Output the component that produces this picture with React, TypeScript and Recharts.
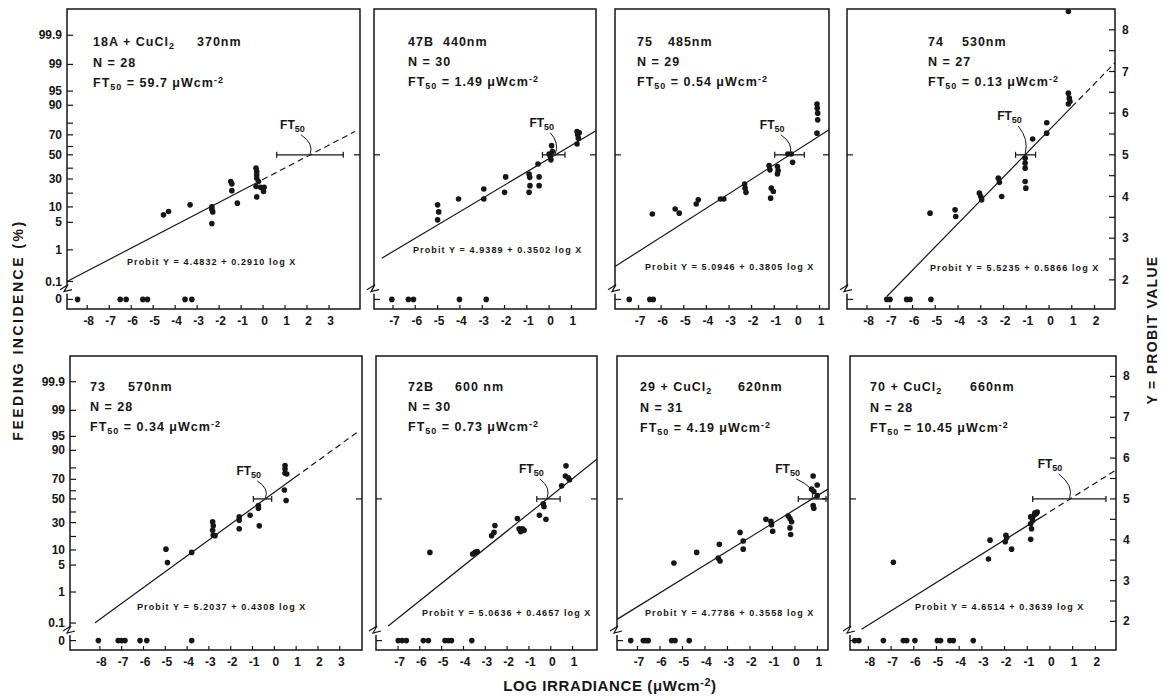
import React from "react"
import {
  ScatterChart,
  Scatter,
  XAxis,
  YAxis,
  ReferenceArea,
  ReferenceLine,
  ReferenceDot,
} from "recharts"

const INK = "#161616"
const FONT = '"Liberation Sans", Arial, Helvetica, sans-serif'

// shared probit scale (right axis) and its percent labels (left axis)
const yDomain = [1.3, 8.5]
const pctLabels = ["0", "0.1", "1", "5", "10", "30", "50", "70", "90", "95", "99", "99.9"]
const pctAt = [1.53, 1.96, 2.72, 3.38, 3.75, 4.42, 5, 5.48, 6.19, 6.53, 7.17, 7.87]
const pctMinorAt = [4.08, 4.68, 5.2, 5.76]
const probitLabels = [2, 3, 4, 5, 6, 7, 8]
const probitMinorAt = [2.5, 3.5, 4.5, 5.5, 6.5, 7.5]
const zeroAt = pctAt[0]
const breakAt = 1.74

// 18A + CuCl2, 370nm
const p370Zero = [-8.44, -6.5, -6.23, -5.47, -5.26, -3.55, -3.24]
const p370Pts = [
  [-4.53, 3.56], [-4.3, 3.64], [-3.32, 3.8], [-2.33, 3.75], [-2.33, 3.69], [-2.29, 3.63],
  [-2.33, 3.35], [-1.47, 4.36], [-1.42, 4.3], [-1.42, 4.14], [-1.17, 3.84], [-0.32, 4.68],
  [-0.29, 4.6], [-0.29, 4.52], [-0.29, 4.44], [-0.21, 4.36], [-0.29, 3.99], [-0.11, 4.22],
  [0.05, 4.22], [0.02, 4.12], [-0.32, 4.24],
]
const p370Fit = [[-8.92, 1.96], [-0.44, 4.29], [4.18, 5.56]]
const p370Ft50 = 2.14
const p370Bar = [0.62, 3.65]
const p370Ticks = [-8, -7, -6, -5, -4, -3, -2, -1, 0, 1, 2, 3]

// 47B, 440nm
const p440Zero = [-7.05, -6.31, -6.08, -4.02, -2.82]
const p440Pts = [
  [-5.0, 3.8], [-4.95, 3.63], [-5.0, 3.44], [-4.06, 3.94], [-2.93, 4.18], [-2.93, 3.94],
  [-1.95, 4.47], [-2.0, 4.1], [-0.9, 4.54], [-0.87, 4.46], [-0.86, 4.26], [-0.9, 4.1],
  [-0.45, 4.47], [-0.45, 4.26], [-0.5, 4.78], [0.11, 5.22], [0.0, 5.02], [0.05, 4.96],
  [0.15, 5.08], [0.08, 4.88], [1.25, 5.56], [1.28, 5.48], [1.31, 5.4], [1.25, 5.26], [1.35, 5.53],
]
const p440Fit = [[-7.5, 2.52], [2.1, 5.58]]
const p440Ft50 = 0.28
const p440Bar = [-0.3, 0.71]
const p440Ticks = [-7, -6, -5, -4, -3, -2, -1, 0, 1]

// 75, 485nm
const p485Zero = [-7.41, -6.5, -6.35]
const p485Pts = [
  [-6.39, 3.58], [-5.38, 3.7], [-5.2, 3.6], [-4.45, 3.82], [-4.36, 3.92], [-3.38, 3.94],
  [-3.23, 3.94], [-2.31, 4.3], [-2.29, 4.2], [-2.25, 4.1], [-1.23, 4.74], [-1.19, 4.64],
  [-1.16, 3.96], [-1.13, 4.2], [-1.04, 4.12], [-0.86, 4.72], [-0.83, 4.62], [-0.86, 4.54],
  [-0.4, 5.02], [-0.25, 5.02], [-0.19, 4.82], [0.89, 6.22], [0.9, 6.12], [0.92, 6.0],
  [0.92, 5.84], [0.89, 5.52],
]
const p485Fit = [[-8.04, 2.32], [1.42, 5.6]]
const p485Ft50 = -0.31
const p485Bar = [-0.98, 0.33]
const p485Ticks = [-7, -6, -5, -4, -3, -2, -1, 0, 1]

// 74, 530nm
const p530Zero = [-7.13, -6.99, -6.26, -6.11, -5.19]
const p530Pts = [
  [-5.23, 3.6], [-4.13, 3.68], [-4.1, 3.52], [-3.06, 4.08], [-3.0, 4.0], [-2.96, 3.92],
  [-2.23, 4.44], [-2.18, 4.34], [-2.08, 4.0], [-1.05, 4.92], [-1.05, 4.8], [-1.05, 4.68],
  [-1.05, 4.36], [-1.02, 4.2], [-0.72, 5.38], [-0.1, 5.77], [-0.1, 5.52], [0.85, 6.48],
  [0.89, 6.36], [0.92, 6.28], [0.85, 6.22], [0.85, 8.44],
]
const p530Fit = [[-7.13, 1.6], [1.0, 6.15], [2.9, 7.21]]
const p530Ft50 = -1.05
const p530Bar = [-1.47, -0.59]
const p530Ticks = [-8, -7, -6, -5, -4, -3, -2, -1, 0, 1, 2]

// 73, 570nm
const p570Zero = [-8.07, -7.16, -7.0, -6.85, -6.16, -5.85, -3.79]
const p570Pts = [
  [-4.97, 3.77], [-4.9, 3.44], [-3.79, 3.69], [-2.83, 4.44], [-2.8, 4.34], [-2.83, 4.23],
  [-2.8, 4.11], [-2.72, 4.1], [-1.61, 4.56], [-1.61, 4.48], [-1.61, 4.27], [-1.11, 4.6],
  [-0.73, 4.84], [-0.73, 4.77], [-0.69, 4.34], [0.49, 5.82], [0.49, 5.73], [0.49, 5.63],
  [0.57, 5.61], [0.46, 5.22], [0.54, 4.96],
]
const p570Fit = [[-8.22, 1.97], [0.95, 5.53], [3.85, 6.65]]
const p570Ft50 = -0.41
const p570Bar = [-0.96, -0.12]
const p570Ticks = [-8, -7, -6, -5, -4, -3, -2, -1, 0, 1, 2, 3]

// 72B, 600 nm
const p600Zero = [-6.99, -6.81, -6.62, -5.84, -5.61, -4.85, -4.7, -4.55, -3.62]
const p600Pts = [
  [-5.54, 3.69], [-3.58, 3.65], [-3.47, 3.69], [-3.37, 3.71], [-2.71, 4.1], [-2.6, 4.18],
  [-2.56, 4.35], [-1.53, 4.52], [-1.45, 4.27], [-1.38, 4.2], [-1.3, 4.27], [-1.22, 4.23],
  [-0.52, 4.6], [-0.34, 4.88], [-0.31, 4.81], [-0.22, 4.5], [0.5, 5.32], [0.7, 5.81],
  [0.67, 5.56], [0.8, 5.52], [0.86, 5.47],
]
const p600Fit = [[-7.45, 1.89], [2.11, 5.97]]
const p600Ft50 = -0.17
const p600Bar = [-0.64, 0.43]
const p600Ticks = [-7, -6, -5, -4, -3, -2, -1, 0, 1]

// 29 + CuCl2, 620nm
const p620Zero = [-7.3, -6.74, -6.62, -6.52, -5.48, -5.33, -4.7]
const p620Pts = [
  [-5.38, 3.43], [-4.37, 3.69], [-3.36, 3.89], [-3.41, 3.55], [-3.33, 3.48], [-2.44, 4.18],
  [-2.3, 3.97], [-2.3, 3.77], [-1.29, 4.5], [-1.07, 4.45], [-1.04, 4.37], [-0.99, 4.21],
  [-0.3, 4.58], [-0.22, 4.52], [-0.15, 4.44], [-0.22, 4.29], [-0.19, 4.13], [0.81, 5.56],
  [0.99, 5.34], [0.74, 5.24], [0.84, 5.18], [0.99, 5.08], [0.81, 4.84], [0.84, 4.77],
]
const p620Fit = [[-7.91, 2.05], [1.47, 5.24]]
const p620Ft50 = 0.77
const p620Bar = [0.15, 1.38]
const p620Ticks = [-7, -6, -5, -4, -3, -2, -1, 0, 1]

// 70 + CuCl2, 660nm
const p660Zero = [-8.6, -8.42, -7.34, -6.46, -6.31, -5.95, -4.96, -4.82, -4.41, -4.26, -3.38]
const p660Pts = [
  [-6.9, 3.45], [-2.64, 3.99], [-2.71, 3.53], [-1.94, 4.11], [-1.91, 4.05], [-1.97, 3.95],
  [-1.69, 3.77], [-0.85, 4.56], [-0.85, 4.39], [-0.81, 4.27], [-0.85, 4.01], [-0.76, 4.47],
  [-0.7, 4.6], [-0.66, 4.66], [-0.6, 4.64], [-0.56, 4.68], [-0.78, 4.52],
]
const p660Fit = [[-8.3, 1.81], [-0.37, 4.56], [2.86, 5.69]]
const p660Ft50 = 0.87
const p660Bar = [-0.76, 2.47]
const p660Ticks = [-8, -7, -6, -5, -4, -3, -2, -1, 0, 1, 2]

const panels = [
  { id: "18A + CuCl2", nm: "370nm", n: 28, ft: "59.7", eq: "4.4832 + 0.2910",
    zero: p370Zero, pts: p370Pts, fit: p370Fit, ft50: p370Ft50, bar: p370Bar, ticks: p370Ticks,
    box: [67, 9, 293, 300], xDomain: [-8.92, 4.41], left: true, right: false,
    text: [93, 32], nmX: 197, eqPos: [127, 262], lab: [-15, -30] },
  { id: "47B", nm: "440nm", n: 30, ft: "1.49", eq: "4.9389 + 0.3502",
    zero: p440Zero, pts: p440Pts, fit: p440Fit, ft50: p440Ft50, bar: p440Bar, ticks: p440Ticks,
    box: [374, 9, 222, 300], xDomain: [-7.85, 2.1], left: false, right: false,
    text: [408, 32], nmX: 443, eqPos: [413, 250], lab: [-11, -32] },
  { id: "75", nm: "485nm", n: 29, ft: "0.54", eq: "5.0946 + 0.3805",
    zero: p485Zero, pts: p485Pts, fit: p485Fit, ft50: p485Ft50, bar: p485Bar, ticks: p485Ticks,
    box: [615, 9, 214, 300], xDomain: [-8.04, 1.42], left: false, right: false,
    text: [637, 32], nmX: 668, eqPos: [645, 267], lab: [-15, -30] },
  { id: "74", nm: "530nm", n: 27, ft: "0.13", eq: "5.5235 + 0.5866",
    zero: p530Zero, pts: p530Pts, fit: p530Fit, ft50: p530Ft50, bar: p530Bar, ticks: p530Ticks,
    box: [847, 9, 268, 300], xDomain: [-8.88, 2.9], left: false, right: true,
    text: [928, 32], nmX: 962, eqPos: [930, 268], lab: [-13, -39] },
  { id: "73", nm: "570nm", n: 28, ft: "0.34", eq: "5.2037 + 0.4308",
    zero: p570Zero, pts: p570Pts, fit: p570Fit, ft50: p570Ft50, bar: p570Bar, ticks: p570Ticks,
    box: [70, 356, 292, 294], xDomain: [-9.37, 4.02], left: true, right: false,
    text: [90, 377], nmX: 128, eqPos: [137, 607], lab: [-14, -28] },
  { id: "72B", nm: "600 nm", n: 30, ft: "0.73", eq: "5.0636 + 0.4657",
    zero: p600Zero, pts: p600Pts, fit: p600Fit, ft50: p600Ft50, bar: p600Bar, ticks: p600Ticks,
    box: [376, 356, 221, 294], xDomain: [-8.01, 2.12], left: false, right: false,
    text: [408, 377], nmX: 455, eqPos: [422, 613], lab: [-13, -30] },
  { id: "29 + CuCl2", nm: "620nm", n: 31, ft: "4.19", eq: "4.7786 + 0.3558",
    zero: p620Zero, pts: p620Pts, fit: p620Fit, ft50: p620Ft50, bar: p620Bar, ticks: p620Ticks,
    box: [617, 356, 211, 294], xDomain: [-7.91, 1.47], left: false, right: false,
    text: [640, 377], nmX: 738, eqPos: [645, 613], lab: [-22, -30] },
  { id: "70 + CuCl2", nm: "660nm", n: 28, ft: "10.45", eq: "4.6514 + 0.3639",
    zero: p660Zero, pts: p660Pts, fit: p660Fit, ft50: p660Ft50, bar: p660Bar, ticks: p660Ticks,
    box: [850, 356, 266, 294], xDomain: [-8.81, 2.91], left: false, right: true,
    text: [870, 377], nmX: 970, eqPos: [915, 607], lab: [-17, -35] },
]

// outer space round each plot box; axes take 1px of it
const M = { top: 6, right: 36, bottom: 26, left: 46 }
const AX = 1

const Dot = (p: any) => <circle cx={p.cx} cy={p.cy} r={2.8} fill={INK} />

const XTick = (p: any) => (
  <g>
    <line x1={p.x} x2={p.x} y1={p.y} y2={p.y - 4} stroke={INK} strokeWidth={1.2} />
    <text x={p.x + 1.5} y={p.y + 16} textAnchor="middle" fontSize={12} fontWeight="bold"
      fontFamily={FONT} fill={INK}>{p.payload.value}</text>
  </g>
)

const LeftTick = (p: any) => {
  const i = pctAt.indexOf(p.payload.value)
  const label = p.full && i >= 0 ? pctLabels[i] : null
  return (
    <g>
      <line x1={p.x} x2={p.x + 6} y1={p.y} y2={p.y} stroke={INK} strokeWidth={1.2} />
      {label && (
        <text x={p.x - 5} y={p.y + 4} textAnchor="end" fontSize={12} fontWeight="bold"
          fontFamily={FONT} fill={INK}>{label}</text>
      )}
    </g>
  )
}

const RightTick = (p: any) => {
  const label = p.full && probitLabels.includes(p.payload.value) ? p.payload.value : null
  return (
    <g>
      <line x1={p.x - 6} x2={p.x} y1={p.y} y2={p.y} stroke={INK} strokeWidth={1.2} />
      {label && (
        <text x={p.x + 7} y={p.y + 4} textAnchor="start" fontSize={12} fontWeight="bold"
          fontFamily={FONT} fill={INK}>{label}</text>
      )}
    </g>
  )
}

const BreakMark = (p: any) => (
  <g>
    <rect x={p.cx - 2} y={p.cy - 5} width={4} height={8} fill="#fff" />
    <path d={`M${p.cx - 7},${p.cy - 1} L${p.cx + 1},${p.cy - 6} L${p.cx - 3},${p.cy + 1} L${p.cx + 5},${p.cy - 1}`}
      fill="none" stroke={INK} strokeWidth={1.2} />
  </g>
)

const Cap = (p: any) => (
  <line x1={p.cx} x2={p.cx} y1={p.cy - 3} y2={p.cy + 3} stroke={INK} strokeWidth={1.2} />
)

const Ft50Label = (p: any) => {
  const lx = p.cx + p.dx
  const ly = p.cy + p.dy
  return (
    <g>
      <text x={lx - 15} y={ly + 4} fontSize={12} fontWeight="bold" fontFamily={FONT} fill={INK}>
        FT<tspan fontSize={9} dy={3}>50</tspan>
      </text>
      <path d={`M${lx + 6},${ly + 10} Q${p.cx + 4},${(ly + p.cy) / 2 + 4} ${p.cx},${p.cy - 1}`}
        fill="none" stroke={INK} strokeWidth={1} />
    </g>
  )
}

const Sub = ({ children }: any) => (
  <span style={{ fontSize: "0.72em", position: "relative", top: "0.3em" }}>{children}</span>
)
const Sup = ({ children }: any) => (
  <span style={{ fontSize: "0.72em", position: "relative", top: "-0.45em" }}>{children}</span>
)

const IdText = ({ id }: { id: string }) =>
  id.endsWith("CuCl2") ? <>{id.slice(0, -1)}<Sub>2</Sub></> : <>{id}</>

function Panel({ p }: { p: any }) {
  const [l, t, w, h] = p.box
  const [x0, x1] = p.xDomain
  const pts = p.pts.map(([x, y]: number[]) => ({ x, y }))
  const zeros = p.zero.map((x: number) => ({ x, y: zeroAt }))
  const leftTicks = p.left ? [...pctAt, ...pctMinorAt] : [zeroAt, 5]
  const rightTicks = p.right ? [...probitLabels, ...probitMinorAt] : [5]
  const seg = (a: number[], b: number[]) => [{ x: a[0], y: a[1] }, { x: b[0], y: b[1] }]
  const margin = { top: M.top, right: M.right - AX, bottom: M.bottom - AX, left: M.left - AX }
  return (
    <div style={{ position: "absolute", left: l - M.left, top: t - M.top }}>
      <ScatterChart width={w + M.left + M.right} height={h + M.top + M.bottom} margin={margin}>
        <XAxis type="number" dataKey="x" domain={[x0, x1]} allowDataOverflow ticks={p.ticks}
          interval={0} height={AX} tickSize={0} tickMargin={0} axisLine={false} tickLine={false}
          tick={(tp: any) => <XTick {...tp} />} />
        <YAxis type="number" dataKey="y" domain={yDomain} allowDataOverflow ticks={leftTicks}
          interval={0} width={AX} tickSize={0} tickMargin={0} axisLine={false} tickLine={false}
          tick={(tp: any) => <LeftTick {...tp} full={p.left} />} />
        <YAxis yAxisId="r" orientation="right" type="number" domain={yDomain} allowDataOverflow
          ticks={rightTicks} interval={0} width={AX} tickSize={0} tickMargin={0} axisLine={false}
          tickLine={false} tick={(tp: any) => <RightTick {...tp} full={p.right} />} />
        <ReferenceArea x1={x0} x2={x1} y1={yDomain[0]} y2={yDomain[1]} fill="none"
          stroke={INK} strokeWidth={1.5} ifOverflow="visible" />
        <ReferenceDot x={x0} y={breakAt} ifOverflow="visible" shape={(sp: any) => <BreakMark {...sp} />} />
        <ReferenceLine segment={seg(p.fit[0], p.fit[1])} stroke={INK} strokeWidth={1.2} ifOverflow="visible" />
        {p.fit.length > 2 && (
          <ReferenceLine segment={seg(p.fit[1], p.fit[2])} stroke={INK} strokeWidth={1.2}
            strokeDasharray="6 4" ifOverflow="visible" />
        )}
        <ReferenceLine segment={[{ x: p.bar[0], y: 5 }, { x: p.bar[1], y: 5 }]} stroke={INK}
          strokeWidth={1.3} ifOverflow="visible" />
        <ReferenceDot x={p.bar[0]} y={5} ifOverflow="visible" shape={(sp: any) => <Cap {...sp} />} />
        <ReferenceDot x={p.bar[1]} y={5} ifOverflow="visible" shape={(sp: any) => <Cap {...sp} />} />
        <ReferenceDot x={p.ft50} y={5} ifOverflow="visible"
          shape={(sp: any) => <Ft50Label {...sp} dx={p.lab[0]} dy={p.lab[1]} />} />
        <Scatter data={pts} shape={Dot} isAnimationActive={false} />
        <Scatter data={zeros} shape={Dot} isAnimationActive={false} />
      </ScatterChart>
    </div>
  )
}

const textStyle: any = {
  position: "absolute",
  fontFamily: FONT,
  fontWeight: "bold",
  color: INK,
  whiteSpace: "nowrap",
}

export default function App() {
  return (
    <div style={{ position: "absolute", left: 0, top: 0, width: 1163, height: 696, background: "#fff" }}>
      {panels.map((p) => (
        <Panel key={p.nm} p={p} />
      ))}
      {panels.map((p) => (
        <div key={"t" + p.nm} style={{ ...textStyle, left: p.text[0], top: p.text[1], fontSize: 12.5,
          lineHeight: "20px", letterSpacing: 1.0 }}>
          <div>
            <IdText id={p.id} />
            <span style={{ position: "absolute", left: p.nmX - p.text[0] }}>{p.nm}</span>
          </div>
          <div>N = {p.n}</div>
          <div>FT<Sub>50</Sub> = {p.ft} μWcm<Sup>-2</Sup></div>
        </div>
      ))}
      {panels.map((p) => (
        <div key={"e" + p.nm} style={{ ...textStyle, left: p.eqPos[0], top: p.eqPos[1] - 6,
          fontSize: 9, lineHeight: "12px", letterSpacing: 1.1 }}>
          Probit Y = {p.eq} log X
        </div>
      ))}
      <div style={{ ...textStyle, left: 18, top: 330, fontSize: 14, letterSpacing: 2.5,
        transform: "translate(-50%, -50%) rotate(-90deg)" }}>
        FEEDING INCIDENCE (%)
      </div>
      <div style={{ ...textStyle, left: 1152, top: 330, fontSize: 14, letterSpacing: 1.3,
        transform: "translate(-50%, -50%) rotate(-90deg)" }}>
        Y = PROBIT VALUE
      </div>
      <div style={{ ...textStyle, left: 610, top: 685, fontSize: 15, letterSpacing: 0.6,
        transform: "translate(-50%, -50%)" }}>
        LOG IRRADIANCE (μWcm<Sup>-2</Sup>)
      </div>
    </div>
  )
}
